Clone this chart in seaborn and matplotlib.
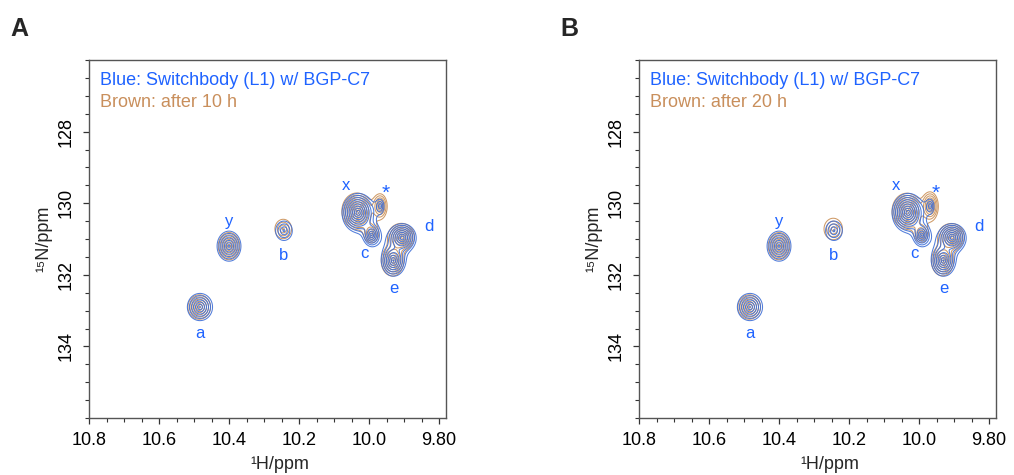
import numpy as np
import matplotlib.pyplot as plt
import matplotlib.ticker as mticker
import seaborn as sns

# Peak list (1H / 15N shifts in ppm)
peak_labels = ["a", "y", "b", "x", "c", "*", "d", "e"]
peak_h = [10.483, 10.400, 10.243, 10.031, 9.992, 9.968, 9.905, 9.930]
peak_n = [132.90, 131.20, 130.77, 130.27, 130.90, 130.08, 130.97, 131.60]
# line widths (ppm)
width_h = [0.0156, 0.0142, 0.0190, 0.0135, 0.0100, 0.0088, 0.0132, 0.0127]
width_n = [0.165, 0.175, 0.216, 0.160, 0.130, 0.150, 0.132, 0.162]
# peak heights: reference (blue), after 10 h and after 20 h (brown)
height_ref = [1.00, 1.10, 0.35, 3.00, 1.00, 0.30, 2.00, 1.50]
height_10h = [0.95, 1.05, 0.42, 2.80, 0.80, 1.10, 1.90, 1.45]
height_20h = [0.95, 1.05, 0.48, 2.70, 0.70, 1.60, 1.85, 1.40]
# small drift of the brown peaks (ppm)
drift_h = [0.002, 0.000, 0.002, 0.004, 0.002, 0.000, 0.002, 0.003]
drift_n = [0.00, 0.00, -0.05, -0.05, -0.05, 0.00, -0.04, 0.03]

# where the peak letters sit
label_h = [10.483, 10.400, 10.243, 10.066, 10.014, 9.951, 9.830, 9.929]
label_n = [133.63, 130.50, 131.45, 129.50, 131.40, 129.72, 130.66, 132.37]

panel_names = ["A", "B"]
brown_texts = ["Brown: after 10 h", "Brown: after 20 h"]
brown_heights = [height_10h, height_20h]

x_ticks = [10.8, 10.6, 10.4, 10.2, 10.0, 9.8]
x_tick_labels = ["10.8", "10.6", "10.4", "10.2", "10.0", "9.80"]
y_ticks = [128, 130, 132, 134]

BLUE = "#3f6fd6"
BROWN = "#cf9a66"
TEXT_BLUE = "#1f63ff"
TEXT_BROWN = "#c98f5c"

sns.set_theme(style="ticks")
plt.rcParams['font.family'] = ['Liberation Sans', 'DejaVu Sans']

gh = np.linspace(9.76, 10.82, 800)
gn = np.linspace(125.8, 136.2, 800)
GH, GN = np.meshgrid(gh, gn)


def Spectrum(heights, dh, dn):
    z = np.zeros_like(GH)
    for i in range(len(peak_h)):
        u = np.sqrt(((GH - peak_h[i] - dh[i]) / width_h[i]) ** 2
                    + ((GN - peak_n[i] - dn[i]) / width_n[i]) ** 2)
        z += heights[i] * np.exp(-u)
    return z


levels = 0.1 * 1.45 ** np.arange(12)
zero = [0.0] * len(peak_h)
ref = Spectrum(height_ref, zero, zero)

fig = plt.figure(figsize=(10.14, 4.75), dpi=100)
lefts = [89 / 1014, 639 / 1014]

for k in range(2):
    ax = fig.add_axes([lefts[k], 57 / 475, 357 / 1014, 358 / 475])
    brown = Spectrum(brown_heights[k], drift_h, drift_n)
    ax.contour(GH, GN, brown, levels=levels * 1.2, colors=BROWN, linewidths=0.75)
    ax.contour(GH, GN, ref, levels=levels, colors=BLUE, linewidths=0.75, alpha=0.9)

    for lab, lh, ln in zip(peak_labels, label_h, label_n):
        ax.text(lh, ln, lab, color=TEXT_BLUE, fontsize=15 if lab == "*" else 12,
                ha="center", va="center")

    ax.set_xlim(10.8, 9.78)
    ax.set_ylim(136, 126)
    ax.set_xticks(x_ticks)
    ax.set_xticklabels(x_tick_labels)
    ax.set_yticks(y_ticks)
    ax.xaxis.set_minor_locator(mticker.MultipleLocator(0.05))
    ax.yaxis.set_minor_locator(mticker.MultipleLocator(0.5))
    ax.tick_params(which="major", direction="out", length=4, width=0.9, labelsize=13,
                   pad=6, colors="#333333", labelcolor="black")
    ax.tick_params(which="minor", direction="out", length=3, width=0.8, colors="#333333")
    ax.tick_params(top=False, right=False)
    for lbl in ax.get_yticklabels():
        lbl.set_rotation(90)
        lbl.set_va("center")
    for sp in ax.spines.values():
        sp.set_visible(True)
        sp.set_color("#555555")
        sp.set_linewidth(1.0)

    ax.set_xlabel("¹H/ppm", fontsize=13)
    ax.xaxis.set_label_coords(0.535, -0.105)
    ax.set_ylabel("¹⁵N/ppm", fontsize=13, labelpad=4)

    ax.text(0.031, 0.930, "Blue: Switchbody (L1) w/ BGP-C7", color=TEXT_BLUE,
            fontsize=13, transform=ax.transAxes, va="baseline")
    ax.text(0.031, 0.869, brown_texts[k], color=TEXT_BROWN,
            fontsize=13, transform=ax.transAxes, va="baseline")

    fig.text((lefts[k] * 1014 - 79) / 1014, 1 - 36 / 475, panel_names[k],
             fontsize=18, fontweight="bold", va="baseline")

fig.savefig("out.png", dpi=100)
